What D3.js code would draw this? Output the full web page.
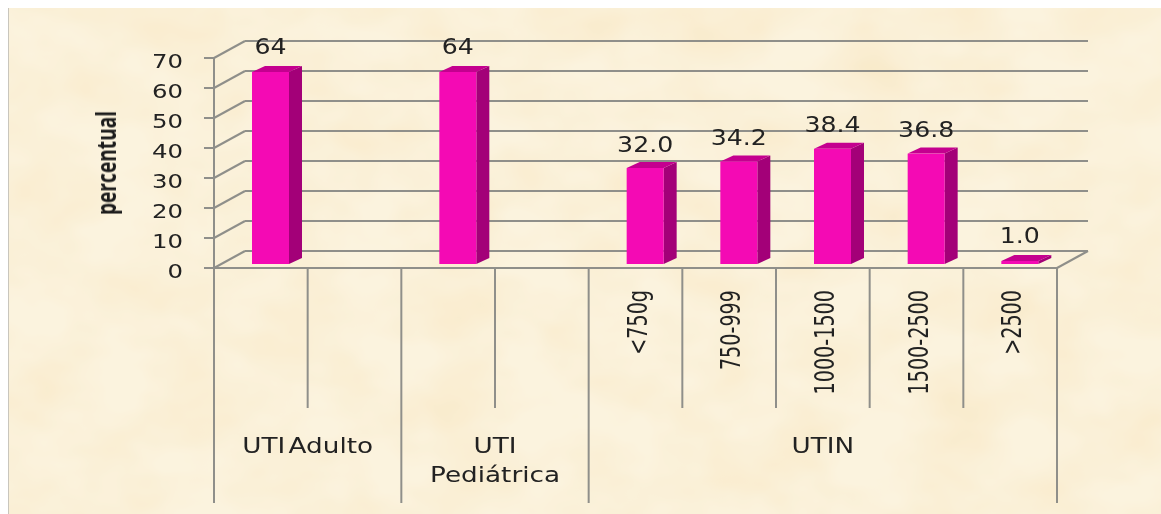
<!DOCTYPE html>
<html>
<head>
<meta charset="utf-8">
<script src="https://cdn.jsdelivr.net/npm/d3@7"></script>
<style>
html, body { margin: 0; padding: 0; background: #fff; }
svg { display: block; }
</style>
</head>
<body>
<div id="chart"></div>
<script>
var categories = ["UTI Adulto", "UTI Pediátrica", "<750g", "750-999", "1000-1500", "1500-2500", ">2500"];
var values = [64, 64, 32.0, 34.2, 38.4, 36.8, 1.0];
var valueLabels = ["64", "64", "32.0", "34.2", "38.4", "36.8", "1.0"];
var groups = [["UTI Adulto"], ["UTI", "Pediátrica"], ["UTIN"]];
var groupSpans = [2, 2, 5];
var yTicks = [0, 10, 20, 30, 40, 50, 60, 70];

function init() {
    var w = 1161;
    var h = 514;
    var depthX = 31, depthY = -17;   // floor/wall offset of the 3d box
    var capX = 13, capY = -6;        // bar top offset
    var barW = 37;

    var svg = d3.select("#chart").append("svg").attr("width", w).attr("height", h);

    var defs = svg.append("defs");
    var paper = defs.append("filter").attr("id", "paper")
        .attr("x", 0).attr("y", 0).attr("width", "100%").attr("height", "100%")
        .attr("color-interpolation-filters", "sRGB");
    paper.append("feTurbulence").attr("type", "fractalNoise")
        .attr("baseFrequency", "0.012 0.018").attr("numOctaves", 3).attr("seed", 7);
    paper.append("feColorMatrix").attr("type", "matrix")
        .attr("values", "0 0 0 0 0.96  0 0 0 0 0.85  0 0 0 0 0.64  0.35 0.35 0 0 -0.26");
    paper.append("feComposite").attr("in2", "SourceGraphic").attr("operator", "over");
    defs.append("filter").attr("id", "soft")
        .attr("color-interpolation-filters", "sRGB")
        .append("feGaussianBlur").attr("stdDeviation", 0.55);

    svg.append("rect").attr("x", 8).attr("y", 8).attr("width", w - 8).attr("height", h - 8)
        .attr("fill", "#fbf3de").attr("filter", "url(#paper)");
    svg.append("line").attr("x1", 8.5).attr("x2", 8.5).attr("y1", 8).attr("y2", h)
        .attr("stroke", "#c9c6bd");

    var g = svg.append("g").attr("filter", "url(#soft)");

    var y = d3.scaleLinear().domain([0, 70]).range([268, 58]);
    var frontRight = 1057;
    var xEdge = d3.scaleLinear().domain([0, 9]).range([214, frontRight]);

    var grid = "#8f8f8a";
    var ink = "#222";

    // back wall gridlines and the slanted bits on the left wall
    g.selectAll(".wall").data(yTicks).enter().append("line")
        .attr("x1", 214 + depthX).attr("x2", frontRight + depthX)
        .attr("y1", function(d) { return y(d) + depthY; })
        .attr("y2", function(d) { return y(d) + depthY; })
        .attr("stroke", grid).attr("stroke-width", 2);
    g.selectAll(".slant").data(yTicks).enter().append("line")
        .attr("x1", 214).attr("x2", 214 + depthX)
        .attr("y1", function(d) { return y(d); })
        .attr("y2", function(d) { return y(d) + depthY; })
        .attr("stroke", grid).attr("stroke-width", 2);
    g.append("line").attr("x1", frontRight).attr("x2", frontRight + depthX)
        .attr("y1", y(0)).attr("y2", y(0) + depthY)
        .attr("stroke", grid).attr("stroke-width", 2);

    // value axis
    g.append("line").attr("x1", 214).attr("x2", 214).attr("y1", y(70)).attr("y2", 503)
        .attr("stroke", grid).attr("stroke-width", 2);
    g.selectAll(".tick").data(yTicks).enter().append("line")
        .attr("x1", 204).attr("x2", 214)
        .attr("y1", function(d) { return y(d); })
        .attr("y2", function(d) { return y(d); })
        .attr("stroke", grid).attr("stroke-width", 2);
    g.append("line").attr("x1", 204).attr("x2", frontRight).attr("y1", y(0)).attr("y2", y(0))
        .attr("stroke", grid).attr("stroke-width", 2);

    g.selectAll(".ylab").data(yTicks).enter().append("text")
        .attr("transform", function(d) { return "translate(183," + (y(d) + 9.5) + ") scale(1.22,1)"; })
        .attr("text-anchor", "end")
        .attr("font-family", "DejaVu Sans").attr("font-size", 20).attr("fill", ink)
        .text(function(d) { return d; });

    g.append("text")
        .attr("transform", "translate(116,163) rotate(-90) scale(0.71,1)")
        .attr("text-anchor", "middle")
        .attr("font-family", "Open Sans").attr("font-weight", 700)
        .attr("font-size", 27).attr("fill", "#1c1c1c")
        .text("percentual");

    // category separators
    g.selectAll(".sep").data([1, 3, 5, 6, 7, 8]).enter().append("line")
        .attr("x1", function(d) { return xEdge(d); }).attr("x2", function(d) { return xEdge(d); })
        .attr("y1", y(0)).attr("y2", 408)
        .attr("stroke", grid).attr("stroke-width", 2);
    g.selectAll(".sepLong").data([2, 4, 9]).enter().append("line")
        .attr("x1", function(d) { return xEdge(d); }).attr("x2", function(d) { return xEdge(d); })
        .attr("y1", y(0)).attr("y2", 503)
        .attr("stroke", grid).attr("stroke-width", 2);

    // bars: one slot for each first-level category
    var slots = [0, 2, 4, 5, 6, 7, 8];
    var barY = d3.scaleLinear().domain([0, 70]).range([264, 54]);
    var bars = g.selectAll(".bar").data(values).enter().append("g");
    function left(i) { return xEdge(slots[i]) + 38; }

    bars.append("path").attr("fill", "#a30078").attr("d", function(d, i) {
        var l = left(i) + barW, t = barY(d), b = barY(0);
        return "M" + l + "," + t + "L" + (l + capX) + "," + (t + capY) + "L" + (l + capX) + "," + (b + capY) + "L" + l + "," + b + "Z";
    });
    bars.append("path").attr("fill", "#c4008f").attr("d", function(d, i) {
        var l = left(i), t = barY(d);
        return "M" + l + "," + t + "L" + (l + capX) + "," + (t + capY) + "L" + (l + barW + capX) + "," + (t + capY) + "L" + (l + barW) + "," + t + "Z";
    });
    bars.append("rect").attr("fill", "#f40ab4")
        .attr("x", function(d, i) { return left(i); })
        .attr("y", function(d) { return barY(d); })
        .attr("width", barW)
        .attr("height", function(d) { return barY(0) - barY(d); });

    // value labels
    var labelDy = [-18, -18, -16, -16, -17, -17, -18];
    g.selectAll(".val").data(valueLabels).enter().append("text")
        .attr("transform", function(d, i) {
            return "translate(" + (left(i) + barW / 2) + "," + (barY(values[i]) + labelDy[i]) + ") scale(1.2,1)";
        })
        .attr("text-anchor", "middle")
        .attr("font-family", "DejaVu Sans").attr("font-size", 21).attr("fill", ink)
        .text(function(d) { return d; });

    // rotated weight labels
    g.selectAll(".cat").data(categories.slice(2)).enter().append("text")
        .attr("transform", function(d, i) {
            return "translate(" + (xEdge(4 + i) + 58) + ",290) rotate(-90) scale(0.71,1)";
        })
        .attr("text-anchor", "end")
        .attr("font-family", "DejaVu Sans").attr("font-size", 27).attr("fill", ink)
        .text(function(d) { return d; });

    // group labels
    var start = 0;
    groups.forEach(function(lines, k) {
        var cx = xEdge(start + groupSpans[k] / 2);
        lines.forEach(function(t, j) {
            g.append("text")
                .attr("transform", "translate(" + cx + "," + (453 + j * 28.5) + ") scale(1.25,1)")
                .attr("text-anchor", "middle")
                .attr("word-spacing", -4)
                .attr("font-family", "DejaVu Sans").attr("font-size", 21).attr("fill", ink)
                .text(t);
        });
        start += groupSpans[k];
    });
}

window.onload = init;
</script>
</body>
</html>
